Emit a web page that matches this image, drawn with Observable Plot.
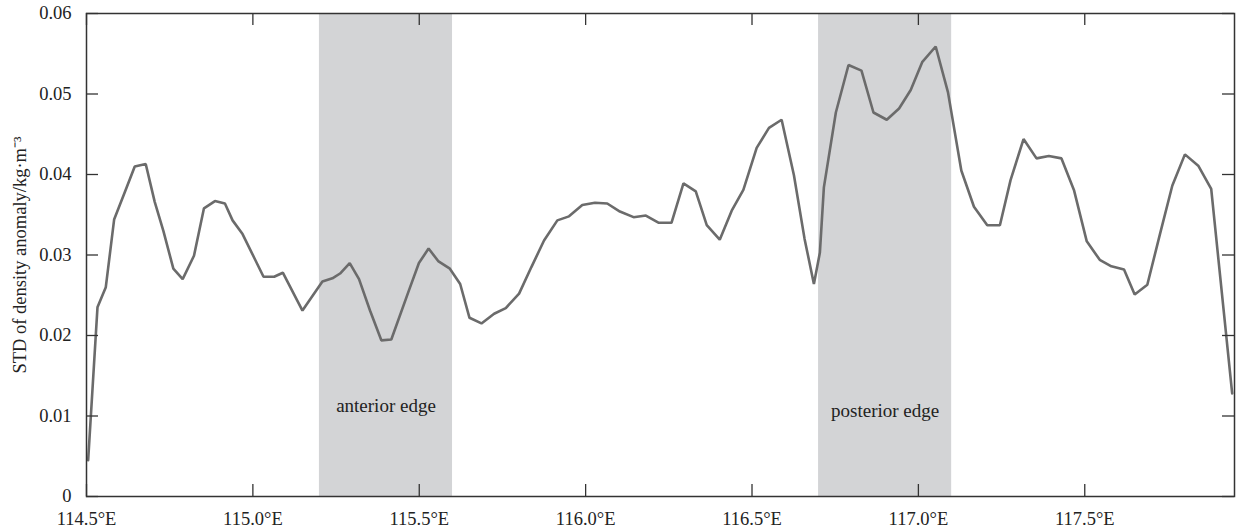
<!DOCTYPE html>
<html>
<head>
<meta charset="utf-8">
<script src="https://cdn.jsdelivr.net/npm/d3@7"></script>
<script src="https://cdn.jsdelivr.net/npm/@observablehq/plot@0.6"></script>
<style>
  html, body { margin: 0; padding: 0; background: #fff; }
  #chart { width: 1236px; height: 532px; }
  #chart svg, #chart svg text { font-family: 'Liberation Serif', 'Times New Roman', serif; }
</style>
</head>
<body>
<div id="chart"></div>
<script>
// Longitude (°E) of each sample along the section
const lon = [
  114.505, 114.533, 114.558, 114.583, 114.615, 114.645, 114.678, 114.705, 114.731, 114.761,
  114.789, 114.823, 114.853, 114.886, 114.916, 114.939, 114.969, 115.032, 115.064, 115.090,
  115.149, 115.209, 115.239, 115.262, 115.291, 115.319, 115.352, 115.386, 115.416, 115.469,
  115.499, 115.528, 115.558, 115.592, 115.623, 115.651, 115.687, 115.725, 115.760, 115.800,
  115.837, 115.875, 115.915, 115.950, 115.990, 116.028, 116.065, 116.103, 116.144, 116.181,
  116.220, 116.258, 116.294, 116.331, 116.364, 116.403, 116.439, 116.474, 116.514, 116.551,
  116.589, 116.626, 116.658, 116.686, 116.704, 116.716, 116.752, 116.790, 116.829, 116.865,
  116.905, 116.942, 116.977, 117.012, 117.052, 117.089, 117.129, 117.167, 117.207, 117.245,
  117.277, 117.316, 117.355, 117.392, 117.430, 117.468, 117.506, 117.545, 117.580, 117.618,
  117.650, 117.688, 117.726, 117.763, 117.801, 117.841, 117.880, 117.943
];
// STD of density anomaly (kg·m⁻³)
const stdValues = [
  0.0045, 0.0235, 0.0260, 0.0344, 0.0378, 0.0410, 0.0413, 0.0366, 0.0330, 0.0283,
  0.0270, 0.0299, 0.0358, 0.0367, 0.0364, 0.0343, 0.0326, 0.0273, 0.0273, 0.0278,
  0.0231, 0.0267, 0.0271, 0.0277, 0.0290, 0.0270, 0.0231, 0.0194, 0.0195, 0.0256,
  0.0290, 0.0308, 0.0292, 0.0283, 0.0264, 0.0222, 0.0215, 0.0227, 0.0234, 0.0252,
  0.0285, 0.0318, 0.0343, 0.0348, 0.0362, 0.0365, 0.0364, 0.0354, 0.0347, 0.0349,
  0.0340, 0.0340, 0.0389, 0.0379, 0.0337, 0.0319, 0.0355, 0.0381, 0.0433, 0.0458,
  0.0468, 0.0399, 0.0320, 0.0264, 0.0303, 0.0384, 0.0477, 0.0536, 0.0529, 0.0477,
  0.0468, 0.0482, 0.0505, 0.0540, 0.0559, 0.0502, 0.0405, 0.0360, 0.0337, 0.0337,
  0.0393, 0.0444, 0.0420, 0.0423, 0.0420, 0.0380, 0.0317, 0.0294, 0.0286, 0.0282,
  0.0251, 0.0263, 0.0326, 0.0386, 0.0425, 0.0411, 0.0382, 0.0128
];
// Shaded zones
const bandStart = [115.2, 116.7];
const bandEnd = [115.6, 117.1];
const bandLabel = ["anterior edge", "posterior edge"];
const bandLabelY = [0.0112, 0.0106];
// Ticks
const xTicks = [114.5, 115.0, 115.5, 116.0, 116.5, 117.0, 117.5];
const yTicks = [0, 0.01, 0.02, 0.03, 0.04, 0.05, 0.06];

const series = lon.map((x, i) => ({x, y: stdValues[i]}));
const bands = bandStart.map((s, i) => ({start: s, end: bandEnd[i], label: bandLabel[i], ly: bandLabelY[i]}));

const W = 1236, H = 532, mL = 86, mR = 2, mT = 13, mB = 36;
const innerW = W - mL - mR, innerH = H - mT - mB;
const tickLen = 12;
const axisColor = "#333";
const serif = "'Liberation Serif', 'Times New Roman', serif";

const chart = Plot.plot({
  width: W,
  height: H,
  marginLeft: mL,
  marginRight: mR,
  marginTop: mT,
  marginBottom: mB,
  style: {fontFamily: serif, fontSize: "18px", color: "#222", background: "#fff"},
  x: {domain: [114.5, 117.95]},
  y: {domain: [0, 0.06]},
  marks: [
    Plot.rect(bands, {x1: "start", x2: "end", fill: "#d3d4d6"}),
    Plot.text(bands, {x: d => (d.start + d.end) / 2, y: "ly", text: "label", fontSize: 19, fontFamily: serif, fill: "#222"}),
    Plot.line(series, {x: "x", y: "y", stroke: "#6b6b6b", strokeWidth: 2.6, strokeLinejoin: "miter"}),
    Plot.ruleX(xTicks, {insetTop: innerH - tickLen, stroke: axisColor, strokeWidth: 1.3}),
    Plot.ruleX(xTicks, {insetBottom: innerH - tickLen, stroke: axisColor, strokeWidth: 1.3}),
    Plot.ruleY(yTicks, {insetRight: innerW - tickLen, stroke: axisColor, strokeWidth: 1.3}),
    Plot.ruleY(yTicks, {insetLeft: innerW - tickLen, stroke: axisColor, strokeWidth: 1.3}),
    Plot.axisX(xTicks, {tickSize: 0, tickPadding: 15, tickFormat: d => d.toFixed(1) + "°E", label: null,
      fontSize: 18.5, fontFamily: serif, fill: "#222"}),
    Plot.axisY(yTicks, {tickSize: 0, tickPadding: 15, tickFormat: d => d === 0 ? "0" : d.toFixed(2),
      fontSize: 18.5, fontFamily: serif, fill: "#222",
      label: "STD of density anomaly/kg·m⁻³", labelArrow: "none", labelAnchor: "center", labelOffset: 74}),
    Plot.frame({stroke: axisColor, strokeWidth: 1.5})
  ]
});
document.getElementById("chart").appendChild(chart);
</script>
</body>
</html>
